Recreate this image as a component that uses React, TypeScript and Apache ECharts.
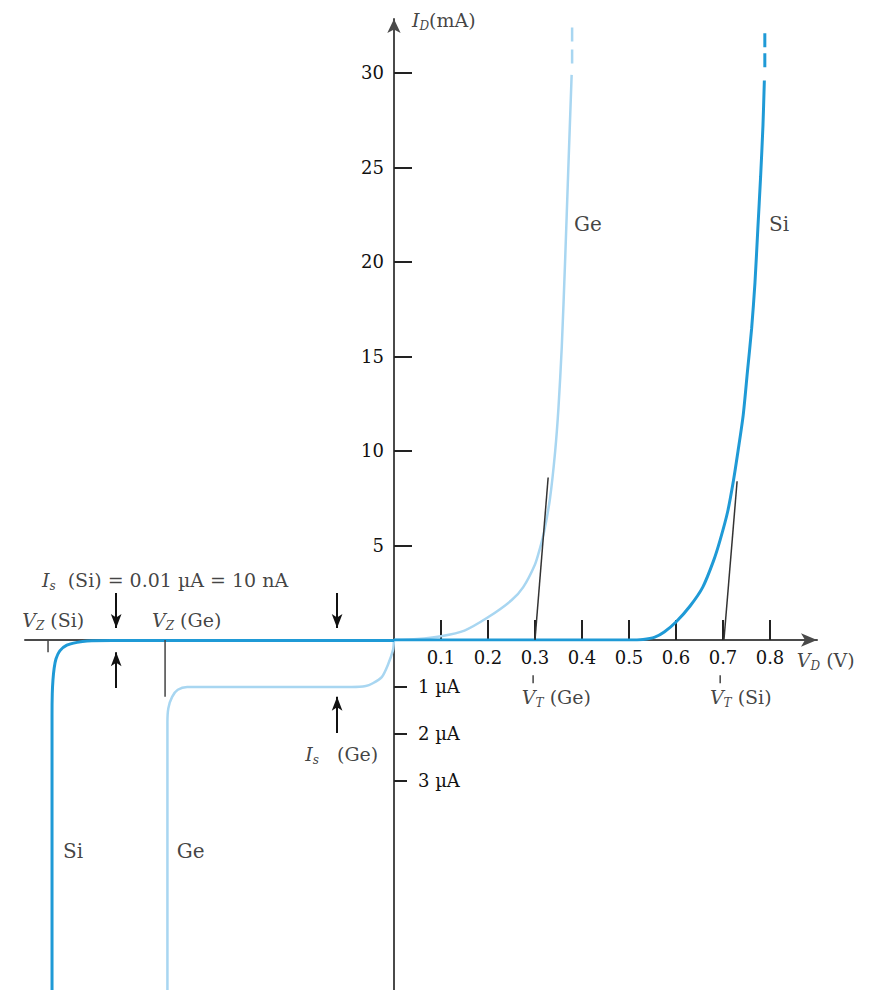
import React, { useEffect, useRef } from 'react';
import * as echarts from 'echarts';

const SI_COLOR = '#1f9ad6';
const GE_COLOR = '#a8d6f1';
const INK = '#111111';
const AXIS = '#4a4a4a';
const FONT = 'DejaVu Serif';

// Forward region: V_D (V) vs I_D (mA)
const siForward: number[][] = [
  [0, 0], [0.5, 0], [0.53, 0.03], [0.555, 0.15], [0.575, 0.42], [0.6, 0.95], [0.63, 1.8],
  [0.657, 2.8], [0.68, 4.2], [0.694, 5.3], [0.71, 6.8], [0.722, 8.4], [0.732, 10],
  [0.743, 11.9], [0.752, 14.2], [0.761, 16.5], [0.768, 18.9], [0.774, 21.7], [0.78, 24.5],
  [0.785, 27.2], [0.788, 29.6],
];
const geForward: number[][] = [
  [0, 0], [0.05, 0.05], [0.1, 0.2], [0.15, 0.5], [0.2, 1.2], [0.25, 2.1], [0.275, 2.8],
  [0.3, 4.0], [0.31, 4.8], [0.32, 5.8], [0.332, 7.5], [0.343, 10], [0.35, 12.3],
  [0.357, 15.5], [0.364, 20], [0.371, 25], [0.378, 29.9],
];
const siDash: number[][] = [[0.789, 30.3], [0.789, 32.4]];
const geDash: number[][] = [[0.379, 30.5], [0.379, 32.5]];

// Reverse region (schematic voltage) vs current (µA)
const siReverse: number[][] = [
  [0, -0.01], [-0.6, -0.01], [-0.653, -0.02], [-0.674, -0.05], [-0.696, -0.11],
  [-0.711, -0.23], [-0.719, -0.4], [-0.723, -0.6], [-0.7255, -0.85], [-0.727, -1.15],
  [-0.7275, -1.6], [-0.7275, -7.45],
];
const geReverse: number[][] = [
  [0, 0], [-0.002, -0.21], [-0.013, -0.53], [-0.026, -0.79], [-0.045, -0.92],
  [-0.06, -0.98], [-0.09, -1.0], [-0.44, -1.0], [-0.46, -1.06], [-0.472, -1.21],
  [-0.48, -1.45], [-0.482, -1.75], [-0.482, -7.45],
];

// Tangent lines (mA region) giving V_T
const geTangent: number[][] = [[0.3, 0], [0.328, 8.6]];
const siTangent: number[][] = [[0.702, 0], [0.73, 8.4]];

// Tick labels
const xTicks = [0.1, 0.2, 0.3, 0.4, 0.5, 0.6, 0.7, 0.8];
const yTicksMA = [5, 10, 15, 20, 25, 30];
const yTicksUA = [-1, -2, -3];

// Annotation marks
const topArrows: number[][][] = [
  [[-0.591, 2.49], [-0.591, 0.63]],
  [[-0.121, 2.49], [-0.121, 0.63]],
];
const bottomArrows: number[][][] = [
  [[-0.591, -1.02], [-0.591, -0.26]],
  [[-0.121, -1.98], [-0.121, -1.21]],
];
const bottomMarkers: number[][][] = [
  [[-0.736, 0], [-0.736, -0.26]],
  [[-0.487, 0], [-0.487, -1.21]],
  [[0.296, -0.75], [0.296, -0.92]],
  [[0.694, -0.75], [0.694, -0.92]],
];

const topTexts = [
  { at: [0.038, 32.8], text: '{i|I}{s|D}{n|(mA)}' },
  { at: [0.383, 22.0], text: '{b|Ge}' },
  { at: [0.798, 22.0], text: '{b|Si}' },
  { at: [-0.749, 3.17], text: '{i|I}{s|s}{n|  (Si) = 0.01 µA = 10 nA}' },
  { at: [-0.791, 1.06], text: '{i|V}{s|Z}{n| (Si)}' },
  { at: [-0.515, 1.06], text: '{i|V}{s|Z}{n| (Ge)}' },
];
const bottomTexts = [
  { at: [0.857, -0.426], text: '{i|V}{s|D}{n| (V)}' },
  { at: [0.272, -1.21], text: '{i|V}{s|T}{n| (Ge)}' },
  { at: [0.672, -1.21], text: '{i|V}{s|T}{n| (Si)}' },
  { at: [-0.189, -2.43], text: '{i|I}{s|s}{n|   (Ge)}' },
  { at: [-0.704, -4.49], text: '{b|Si}' },
  { at: [-0.462, -4.49], text: '{b|Ge}' },
];

const rich = {
  n: { fontFamily: FONT, fontSize: 19, color: INK, lineHeight: 24 },
  b: { fontFamily: FONT, fontSize: 20, color: INK, lineHeight: 24 },
  i: { fontFamily: FONT, fontSize: 19, fontStyle: 'italic', color: INK, lineHeight: 24 },
  s: { fontFamily: FONT, fontSize: 12, fontStyle: 'italic', color: INK, lineHeight: 12, verticalAlign: 'bottom' },
};

function textSeries(items: { at: number[]; text: string }[], gi: number) {
  return {
    type: 'scatter',
    xAxisIndex: gi,
    yAxisIndex: gi,
    clip: false,
    symbol: 'circle',
    symbolSize: 0.1,
    itemStyle: { color: 'transparent' },
    silent: true,
    z: 10,
    data: items.map((t) => ({
      value: t.at,
      label: { show: true, position: 'right', distance: 0, formatter: t.text, rich },
    })),
  };
}

function arrowSeries(arrs: number[][][], gi: number) {
  return {
    type: 'lines',
    coordinateSystem: 'cartesian2d',
    xAxisIndex: gi,
    yAxisIndex: gi,
    symbol: ['none', 'arrow'],
    symbolSize: [[8, 14], [8, 14]],
    lineStyle: { color: '#111', width: 2, opacity: 1, curveness: 0 },
    silent: true,
    z: 6,
    data: arrs.map((c) => ({ coords: c })),
  };
}

function segSeries(segs: number[][][], gi: number, color: string, width: number) {
  return segs.map((s) => ({
    type: 'line',
    xAxisIndex: gi,
    yAxisIndex: gi,
    data: s,
    symbol: 'none',
    silent: true,
    lineStyle: { color, width },
    z: 5,
  }));
}

const X_MIN = -0.785;
const X_MAX = 0.9;
const GRID_LEFT = 25;
const GRID_WIDTH = 792;
// the vertical axis sits at V = 0, i.e. this many pixels right of the grid's left edge
const Y_AXIS_SHIFT = (-X_MIN / (X_MAX - X_MIN)) * GRID_WIDTH;

const axisLineStyle = { color: AXIS, width: 2 };
const labelFont = { fontFamily: FONT, fontSize: 18, color: INK };

const option: any = {
  animation: false,
  backgroundColor: '#ffffff',
  grid: [
    { left: GRID_LEFT, top: 19, width: GRID_WIDTH, height: 621, outerBoundsMode: 'none', containLabel: false },
    { left: GRID_LEFT, top: 640, width: GRID_WIDTH, height: 350, outerBoundsMode: 'none', containLabel: false },
  ],
  xAxis: [
    {
      gridIndex: 0, type: 'value', min: X_MIN, max: X_MAX, position: 'bottom',
      axisLine: { show: true, onZero: false, lineStyle: axisLineStyle, symbol: ['none', 'arrow'], symbolSize: [10, 16] },
      axisTick: { show: true, inside: true, length: 20, customValues: xTicks, lineStyle: { color: '#222', width: 2 } },
      axisLabel: { show: true, customValues: xTicks, formatter: (v: number) => v.toFixed(1), margin: 8, ...labelFont },
      splitLine: { show: false },
    },
    { gridIndex: 1, type: 'value', min: X_MIN, max: X_MAX, show: false, splitLine: { show: false } },
  ],
  yAxis: [
    {
      gridIndex: 0, type: 'value', min: 0, max: 32.857, position: 'left', offset: -Y_AXIS_SHIFT,
      axisLine: { show: true, onZero: false, lineStyle: axisLineStyle, symbol: ['none', 'arrow'], symbolSize: [10, 14] },
      axisTick: { show: true, inside: true, length: 18, customValues: yTicksMA, lineStyle: { color: '#222', width: 2 } },
      axisLabel: { show: true, customValues: yTicksMA, margin: 10, ...labelFont },
      splitLine: { show: false },
    },
    {
      gridIndex: 1, type: 'value', min: -7.447, max: 0, position: 'left', offset: -Y_AXIS_SHIFT,
      axisLine: { show: true, onZero: false, lineStyle: axisLineStyle },
      axisTick: { show: true, inside: true, length: 13, customValues: yTicksUA, lineStyle: { color: '#222', width: 2 } },
      axisLabel: { show: true, inside: true, customValues: yTicksUA, formatter: (v: number) => `${-v} µA`, margin: 24, ...labelFont },
      splitLine: { show: false },
    },
  ],
  series: [
    { type: 'line', xAxisIndex: 0, yAxisIndex: 0, data: geForward, symbol: 'none', smooth: 0.25, lineStyle: { color: GE_COLOR, width: 2.5 }, z: 3 },
    { type: 'line', xAxisIndex: 0, yAxisIndex: 0, data: geDash, symbol: 'none', lineStyle: { color: GE_COLOR, width: 2.5, type: [14, 8] }, z: 3 },
    { type: 'line', xAxisIndex: 1, yAxisIndex: 1, data: geReverse, symbol: 'none', smooth: 0.25, lineStyle: { color: GE_COLOR, width: 2.5 }, z: 3 },
    { type: 'line', xAxisIndex: 0, yAxisIndex: 0, data: siForward, symbol: 'none', smooth: 0.25, lineStyle: { color: SI_COLOR, width: 3 }, z: 4 },
    { type: 'line', xAxisIndex: 0, yAxisIndex: 0, data: siDash, symbol: 'none', lineStyle: { color: SI_COLOR, width: 3, type: [14, 6] }, z: 4 },
    { type: 'line', xAxisIndex: 1, yAxisIndex: 1, data: siReverse, symbol: 'none', smooth: 0.25, lineStyle: { color: SI_COLOR, width: 3 }, z: 4 },
    ...segSeries([geTangent, siTangent], 0, '#333', 1.5),
    ...segSeries(bottomMarkers, 1, '#444', 1.5),
    arrowSeries(topArrows, 0),
    arrowSeries(bottomArrows, 1),
    textSeries(topTexts, 0),
    textSeries(bottomTexts, 1),
  ],
};

export default function App() {
  const ref = useRef<HTMLDivElement>(null);
  useEffect(() => {
    if (!ref.current) return;
    const chart = echarts.init(ref.current, null, { renderer: 'svg' });
    chart.setOption(option);
    return () => chart.dispose();
  }, []);
  return (
    <div
      ref={ref}
      style={{ position: 'absolute', left: 0, top: 0, width: 879, height: 990, background: '#fff' }}
    />
  );
}
